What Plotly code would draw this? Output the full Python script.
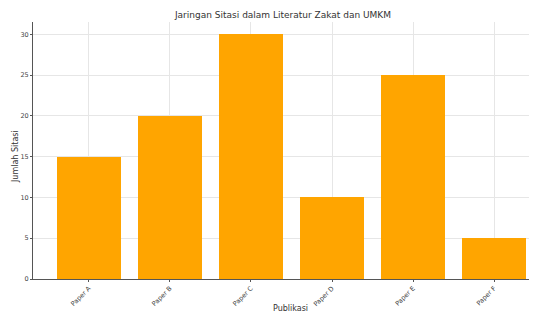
import plotly.graph_objects as go

papers = ["Paper A", "Paper B", "Paper C", "Paper D", "Paper E", "Paper F"]
citations = [15, 20, 30, 10, 25, 5]
y_ticks = [0, 5, 10, 15, 20, 25, 30]

fig = go.Figure(go.Bar(
    x=list(range(len(papers))), y=citations,
    marker=dict(color="#FFA500", line=dict(width=0)),
    width=0.8,
))

font = "DejaVu Sans, Arial, sans-serif"
# page body has an 8px margin, so the figure sits at (8, 8) in the window
fig.update_layout(
    width=537, height=313,
    margin=dict(l=25, r=8, t=14, b=42, autoexpand=False),
    paper_bgcolor="white", plot_bgcolor="white",
    showlegend=False,
    font=dict(family=font, color="#333333", size=7),
    title=dict(text="Jaringan Sitasi dalam Literatur Zakat dan UMKM",
               x=275/537, xref="container", xanchor="center",
               y=1 - 7/313, yref="container", yanchor="middle",
               font=dict(size=9, color="#333333", family=font)),
    bargap=0,
)
fig.update_xaxes(
    range=[-0.69, 5.53], automargin=False,
    tickmode="array", tickvals=list(range(len(papers))), ticktext=papers,
    tickangle=-45, tickfont=dict(size=6.5, color="#444444"),
    showgrid=True, gridcolor="#e6e6e6", gridwidth=1,
    showline=True, linecolor="#555555", linewidth=1,
    ticks="outside", ticklen=2, tickcolor="#555555",
    zeroline=False,
)
fig.update_yaxes(
    range=[0, 31.5], automargin=False,
    tickmode="array", tickvals=y_ticks,
    tickfont=dict(size=6.5, color="#444444"),
    showgrid=True, gridcolor="#e6e6e6", gridwidth=1,
    showline=True, linecolor="#555555", linewidth=1,
    ticks="outside", ticklen=2, tickcolor="#555555",
    zeroline=False,
)
fig.add_annotation(text="Publikasi", xref="paper", yref="paper",
                   x=(290-33)/504, y=-(308-279)/257, xanchor="center", yanchor="middle",
                   showarrow=False, font=dict(size=8, color="#333333"))
fig.add_annotation(text="Jumlah Sitasi", xref="paper", yref="paper",
                   x=-(33-15)/504, y=(279-157)/257, xanchor="center", yanchor="middle",
                   textangle=-90, showarrow=False, font=dict(size=8, color="#333333"))
fig.write_html("out.html")
